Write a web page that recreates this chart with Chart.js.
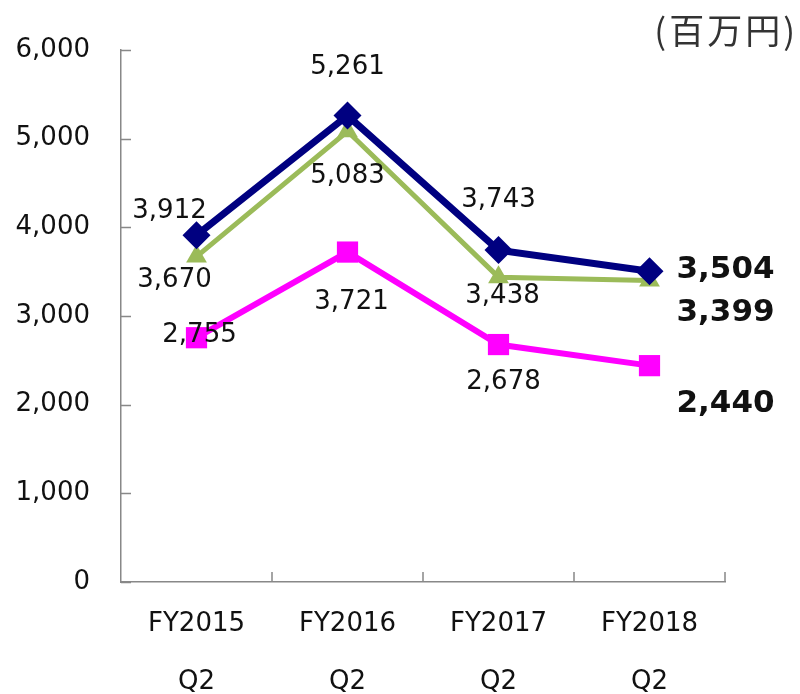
<!DOCTYPE html>
<html><head><meta charset="utf-8">
<script src="https://cdn.jsdelivr.net/npm/chart.js@4"></script>
<style>html,body{margin:0;padding:0;background:#fff;}#wrap{position:relative;width:800px;height:694px;}</style>
</head><body><div id="wrap"><canvas id="c" width="800" height="694"></canvas></div>
<script>
const categories = [["FY2015","Q2"],["FY2016","Q2"],["FY2017","Q2"],["FY2018","Q2"]];
const seriesNavy = [3912, 5261, 3743, 3504];
const seriesGreen = [3670, 5083, 3438, 3399];
const seriesMagenta = [2755, 3721, 2678, 2440];
const yTicks = [0, 1000, 2000, 3000, 4000, 5000, 6000];
const unitLabel = "(百万円)";

// label offsets (style only) relative to each point: [dx, dy]; null dx = bold label on the right
const offsNavy = [[-27,-24],[0,-48],[0,-50],[null,-1]];
const offsGreen = [[-22,24],[0,45],[4,19],[null,32]];
const offsMagenta = [[3,-2],[4,50],[5,38],[null,38]];
const FONT = '"DejaVu Sans", Verdana, sans-serif';

const labelPlugin = {
  id: 'labels',
  afterDatasetsDraw(chart) {
    const ctx = chart.ctx;
    const xs = chart.scales.x, ys = chart.scales.y;
    ctx.save();
    ctx.strokeStyle = '#888';
    ctx.lineWidth = 1.5;
    ctx.beginPath();
    yTicks.forEach(v => {
      const y = Math.round(ys.getPixelForValue(v)) + 0.5;
      ctx.moveTo(xs.left, y); ctx.lineTo(xs.left + 10, y);
    });
    for (let i = 1; i <= categories.length; i++) {
      const x = Math.round(xs.left + (xs.right - xs.left) * i / categories.length);
      ctx.moveTo(x, ys.bottom); ctx.lineTo(x, ys.bottom - 10);
    }
    ctx.stroke();
    ctx.fillStyle = '#111';
    ctx.textBaseline = 'middle';
    chart.data.datasets.forEach((ds) => {
      ds.data.forEach((v, i) => {
        const px = xs.getPixelForValue(i), py = ys.getPixelForValue(v);
        const off = ds.labelOffsets[i];
        const txt = v.toLocaleString('en-US');
        if (off[0] === null) {
          ctx.font = 'bold 31px ' + FONT;
          ctx.textAlign = 'left';
          ctx.fillText(txt, px + 27, py + off[1]);
        } else {
          ctx.font = '26px ' + FONT;
          ctx.textAlign = 'center';
          ctx.fillText(txt, px + off[0], py + off[1]);
        }
      });
    });
    ctx.font = '35px "Noto Sans CJK JP", sans-serif';
    ctx.textAlign = 'right';
    ctx.fillStyle = '#333';
    try { ctx.letterSpacing = '3px'; } catch (e) {}
    ctx.fillText(unitLabel, 798, 31);
    ctx.restore();
  }
};

new Chart(document.getElementById('c'), {
  type: 'line',
  data: {
    labels: categories,
    datasets: [
      { data: seriesMagenta, labelOffsets: offsMagenta, borderColor: '#FF00FF', backgroundColor: '#FF00FF', borderWidth: 6,
        pointStyle: 'rect', pointRadius: 15, pointBorderWidth: 0, order: 3 },
      { data: seriesGreen, labelOffsets: offsGreen, borderColor: '#9BBB59', backgroundColor: '#9BBB59', borderWidth: 5,
        pointStyle: 'triangle', pointRadius: 12, pointBorderWidth: 0, order: 2 },
      { data: seriesNavy, labelOffsets: offsNavy, borderColor: '#000080', backgroundColor: '#000080', borderWidth: 7,
        pointStyle: 'rectRot', pointRadius: 14, pointBorderWidth: 0, order: 1 }
    ]
  },
  options: {
    animation: false,
    responsive: false,
    layout: { padding: { left: 0, right: 75, top: 50, bottom: 0 } },
    plugins: { legend: { display: false }, tooltip: { enabled: false } },
    scales: {
      x: {
        offset: true,
        grid: { display: false, drawTicks: false },
        border: { display: true, color: '#888', width: 1.5 },
        ticks: { color: '#111', font: { family: FONT, size: 26, lineHeight: 2.2 }, padding: 14, maxRotation: 0 },
        afterFit(s) { s.height = 112; }
      },
      y: {
        min: 0, max: 6000,
        grid: { display: false, drawTicks: false },
        border: { display: true, color: '#888', width: 1.5 },
        afterBuildTicks(s) { s.ticks = yTicks.map(v => ({ value: v })); },
        ticks: { color: '#111', font: { family: FONT, size: 26 }, padding: 31,
          callback: v => v.toLocaleString('en-US') },
        afterFit(s) { s.width = 121; }
      }
    }
  },
  plugins: [labelPlugin]
});
</script>
</body></html>
